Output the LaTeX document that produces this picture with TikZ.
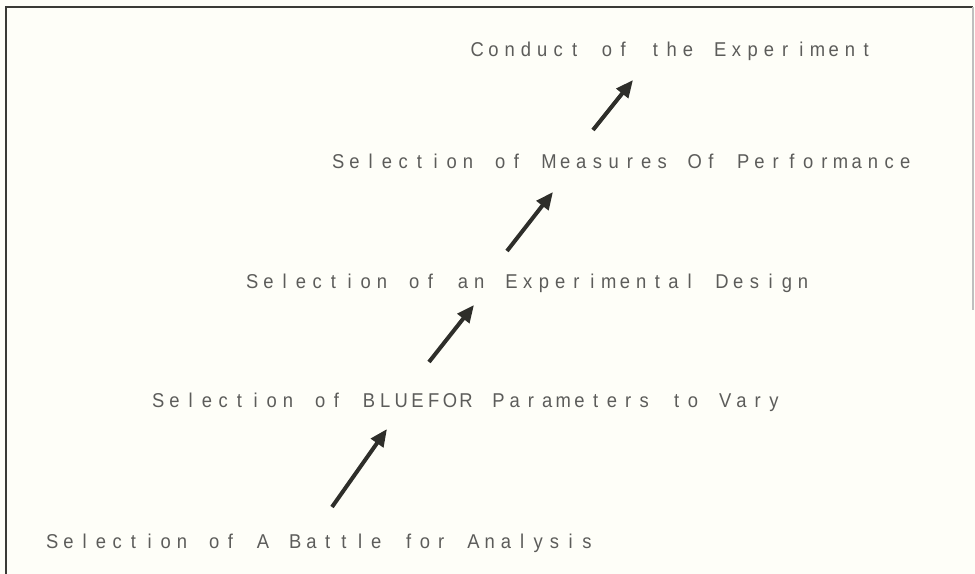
\documentclass[tikz,border=0pt]{standalone}
\usepackage{fontspec}
\newfontfamily\hershey[FakeStretch=0.92]{Liberation Sans}
\usetikzlibrary{arrows.meta}
\definecolor{paper}{HTML}{FEFEF8}
\definecolor{ink}{HTML}{5C5C5A}
\definecolor{arrowink}{HTML}{2E2E2A}
\definecolor{frameink}{HTML}{3A3A36}
\ExplSyntaxOn
\NewDocumentCommand\plotter{m}{\str_map_inline:nn{#1}{\makebox[12.15pt][c]{##1}}}
\ExplSyntaxOff
\begin{document}
\begin{tikzpicture}[x=0.75pt,y=-0.75pt,
  lbl/.style={anchor=base west,inner sep=0pt,text=ink,font=\hershey\fontsize{15pt}{18pt}\selectfont},
  flow/.style={draw=arrowink,line width=3pt,-{Triangle[length=13pt,width=11pt]}}]
\fill[paper] (0,0) rectangle (975,574);
\useasboundingbox (0,0) rectangle (975,574);
\draw[line width=2pt,draw=frameink] (6,574) -- (6,7) -- (973,7);
\draw[line width=1pt,draw=black!25] (973,7) -- (973,310);
\node[lbl] (t1) at (44,548) {\plotter{Selection of A Battle for Analysis}};
\node[lbl] (t2) at (150,407) {\plotter{Selection of BLUEFOR Parameters to Vary}};
\node[lbl] (t3) at (244,288) {\plotter{Selection of an Experimental Design}};
\node[lbl] (t4) at (330,169) {\plotter{Selection of Measures Of Performance}};
\node[lbl] (t5) at (469,57) {\plotter{Conduct of the Experiment}};
\coordinate (a1s) at (332,507); \coordinate (a1e) at (387,429);
\coordinate (a2s) at (429,362); \coordinate (a2e) at (474,305);
\coordinate (a3s) at (507,251); \coordinate (a3e) at (553,192);
\coordinate (a4s) at (593,130); \coordinate (a4e) at (633,80);
\draw[flow] (a1s) -- (a1e);
\draw[flow] (a2s) -- (a2e);
\draw[flow] (a3s) -- (a3e);
\draw[flow] (a4s) -- (a4e);
\end{tikzpicture}
\end{document}
